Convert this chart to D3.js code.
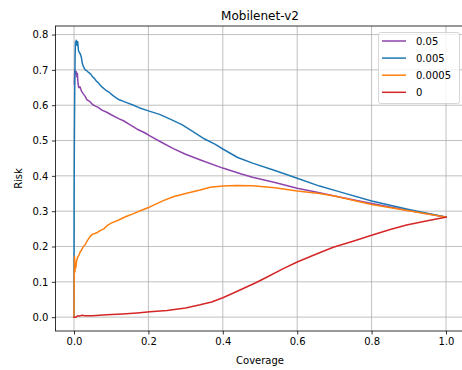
<!DOCTYPE html>
<html>
<head>
<meta charset="utf-8">
<script src="https://cdn.jsdelivr.net/npm/d3@7"></script>
<style>
  html, body { margin: 0; padding: 0; background: #fff; }
  svg { display: block; font-family: "DejaVu Sans", sans-serif; }
</style>
</head>
<body>
<div id="chart"></div>
<script>
// Risk–coverage curves for Mobilenet-v2 at several settings
const seriesNames = ["0.05", "0.005", "0.0005", "0"];
const seriesColors = ["#8e44ad", "#1f77b4", "#ff7f0e", "#d62728"];

const cov005 = [0.001, 0.002, 0.004, 0.006, 0.008, 0.009, 0.011, 0.013, 0.016, 0.02, 0.025, 0.03, 0.035, 0.043, 0.05, 0.056, 0.065, 0.075, 0.088, 0.1, 0.12, 0.133, 0.15, 0.17, 0.19, 0.204, 0.23, 0.267, 0.3, 0.34, 0.4, 0.45, 0.48, 0.54, 0.6, 0.66, 0.7, 0.8, 0.9, 1.0];
const risk005 = [0.66, 0.70, 0.69, 0.695, 0.68, 0.69, 0.66, 0.65, 0.652, 0.64, 0.632, 0.625, 0.615, 0.61, 0.602, 0.598, 0.594, 0.586, 0.58, 0.573, 0.562, 0.556, 0.545, 0.532, 0.522, 0.513, 0.498, 0.477, 0.461, 0.445, 0.422, 0.405, 0.396, 0.381, 0.365, 0.352, 0.343, 0.322, 0.302, 0.283];

const cov0005 = [0.0, 0.0004, 0.0006, 0.001, 0.002, 0.003, 0.004, 0.005, 0.006, 0.008, 0.01, 0.012, 0.014, 0.017, 0.02, 0.022, 0.025, 0.03, 0.035, 0.04, 0.045, 0.05, 0.055, 0.06, 0.065, 0.07, 0.075, 0.085, 0.095, 0.105, 0.12, 0.14, 0.16, 0.175, 0.2, 0.23, 0.26, 0.29, 0.32, 0.35, 0.38, 0.4, 0.44, 0.48, 0.54, 0.6, 0.66, 0.71, 0.8, 0.9, 1.0];
const risk0005 = [0.0, 0.33, 0.40, 0.5, 0.65, 0.74, 0.78, 0.77, 0.784, 0.77, 0.78, 0.755, 0.75, 0.745, 0.735, 0.72, 0.71, 0.70, 0.697, 0.692, 0.688, 0.68, 0.676, 0.668, 0.664, 0.657, 0.652, 0.643, 0.636, 0.627, 0.616, 0.608, 0.60, 0.593, 0.584, 0.574, 0.56, 0.545, 0.525, 0.505, 0.489, 0.476, 0.452, 0.436, 0.415, 0.393, 0.371, 0.356, 0.329, 0.305, 0.283];

const cov00005 = [0.0, 0.0005, 0.001, 0.0015, 0.002, 0.0025, 0.003, 0.004, 0.005, 0.007, 0.01, 0.013, 0.016, 0.02, 0.025, 0.03, 0.035, 0.043, 0.05, 0.06, 0.07, 0.08, 0.09, 0.1, 0.12, 0.14, 0.16, 0.18, 0.204, 0.22, 0.24, 0.267, 0.3, 0.339, 0.366, 0.4, 0.437, 0.48, 0.54, 0.6, 0.66, 0.7, 0.8, 0.9, 1.0];
const risk00005 = [0.0, 0.10, 0.15, 0.172, 0.16, 0.128, 0.135, 0.15, 0.14, 0.16, 0.17, 0.175, 0.183, 0.19, 0.20, 0.205, 0.215, 0.228, 0.235, 0.238, 0.245, 0.25, 0.26, 0.266, 0.275, 0.285, 0.293, 0.302, 0.312, 0.32, 0.33, 0.341, 0.35, 0.36, 0.368, 0.371, 0.373, 0.372, 0.366, 0.357, 0.35, 0.343, 0.319, 0.301, 0.283];

const cov0 = [0.0, 0.005, 0.01, 0.015, 0.02, 0.03, 0.05, 0.088, 0.13, 0.17, 0.204, 0.25, 0.3, 0.339, 0.37, 0.4, 0.43, 0.455, 0.49, 0.518, 0.56, 0.6, 0.65, 0.697, 0.75, 0.8, 0.85, 0.894, 0.95, 1.0];
const risk0 = [0.0, 0.0, 0.004, 0.003, 0.005, 0.004, 0.004, 0.0065, 0.009, 0.012, 0.015, 0.019, 0.026, 0.035, 0.043, 0.055, 0.069, 0.081, 0.098, 0.113, 0.136, 0.156, 0.178, 0.198, 0.215, 0.232, 0.248, 0.261, 0.273, 0.283];

const xTicks = [0.0, 0.2, 0.4, 0.6, 0.8, 1.0];
const yTicks = [0.0, 0.1, 0.2, 0.3, 0.4, 0.5, 0.6, 0.7, 0.8];

const coverages = [cov005, cov0005, cov00005, cov0];
const risks = [risk005, risk0005, risk00005, risk0];

const W = 462, H = 370;
const plot = { left: 55.4, right: 464.6, top: 26, bottom: 331 };

const x = d3.scaleLinear().domain([-0.05, 1.05]).range([plot.left, plot.right]);
const y = d3.scaleLinear().domain([-0.03925, 0.82425]).range([plot.bottom, plot.top]);

const svg = d3.select("#chart").append("svg").attr("width", W).attr("height", H);

svg.append("defs").append("clipPath").attr("id", "plotclip")
  .append("rect")
  .attr("x", plot.left).attr("y", plot.top)
  .attr("width", plot.right - plot.left).attr("height", plot.bottom - plot.top);

// grid lines
const grid = svg.append("g");
grid.selectAll("line.gx").data(xTicks).join("line")
  .attr("x1", d => x(d)).attr("x2", d => x(d))
  .attr("y1", plot.top).attr("y2", plot.bottom)
  .attr("stroke", "#b0b0b0").attr("stroke-width", 0.8);
grid.selectAll("line.gy").data(yTicks).join("line")
  .attr("x1", plot.left).attr("x2", plot.right)
  .attr("y1", d => y(d)).attr("y2", d => y(d))
  .attr("stroke", "#b0b0b0").attr("stroke-width", 0.8);

// curves
const line = d3.line().x(d => x(d[0])).y(d => y(d[1]));
const curves = svg.append("g").attr("clip-path", "url(#plotclip)");
seriesNames.forEach((name, i) => {
  const pts = coverages[i].map((c, j) => [c, risks[i][j]]);
  curves.append("path")
    .datum(pts)
    .attr("d", line)
    .attr("fill", "none")
    .attr("stroke", seriesColors[i])
    .attr("stroke-width", 1.5)
    .attr("stroke-linejoin", "round")
    .attr("stroke-linecap", "square");
});

// axes
const fmt = d3.format(".1f");
const xAxis = svg.append("g")
  .attr("transform", `translate(0,${plot.bottom})`)
  .call(d3.axisBottom(x).tickValues(xTicks).tickFormat(fmt).tickSizeInner(3.5).tickSizeOuter(0).tickPadding(3.5));
const yAxis = svg.append("g")
  .attr("transform", `translate(${plot.left},0)`)
  .call(d3.axisLeft(y).tickValues(yTicks).tickFormat(fmt).tickSizeInner(3.5).tickSizeOuter(0).tickPadding(3.5));
[xAxis, yAxis].forEach(a => {
  a.select(".domain").remove();
  a.selectAll("line").attr("stroke", "#000").attr("stroke-width", 0.8);
  a.selectAll("text").attr("font-size", 10).attr("fill", "#000").attr("font-family", "DejaVu Sans, sans-serif");
});

// frame
svg.append("rect")
  .attr("x", plot.left).attr("y", plot.top)
  .attr("width", plot.right - plot.left).attr("height", plot.bottom - plot.top)
  .attr("fill", "none").attr("stroke", "#000").attr("stroke-width", 0.8);

// title and axis labels
svg.append("text")
  .attr("x", (plot.left + plot.right) / 2).attr("y", 20)
  .attr("text-anchor", "middle").attr("font-size", 12).attr("fill", "#000")
  .text("Mobilenet-v2");
svg.append("text")
  .attr("x", (plot.left + plot.right) / 2).attr("y", 364)
  .attr("text-anchor", "middle").attr("font-size", 10).attr("fill", "#000")
  .text("Coverage");
svg.append("text")
  .attr("transform", `translate(22,${(plot.top + plot.bottom) / 2}) rotate(-90)`)
  .attr("text-anchor", "middle").attr("font-size", 10).attr("fill", "#000")
  .text("Risk");

// legend
const legend = svg.append("g");
legend.append("rect")
  .attr("x", 378.5).attr("y", 32.5).attr("width", 81).attr("height", 71).attr("rx", 2)
  .attr("fill", "#fff").attr("fill-opacity", 0.8)
  .attr("stroke", "#cccccc").attr("stroke-width", 0.8);
seriesNames.forEach((name, i) => {
  const ly = 41 + i * 17.1;
  legend.append("line")
    .attr("x1", 382).attr("x2", 406).attr("y1", ly).attr("y2", ly)
    .attr("stroke", seriesColors[i]).attr("stroke-width", 1.5);
  legend.append("text")
    .attr("x", 416).attr("y", ly + 3.6)
    .attr("font-size", 10).attr("fill", "#000")
    .text(name);
});
</script>
</body>
</html>
